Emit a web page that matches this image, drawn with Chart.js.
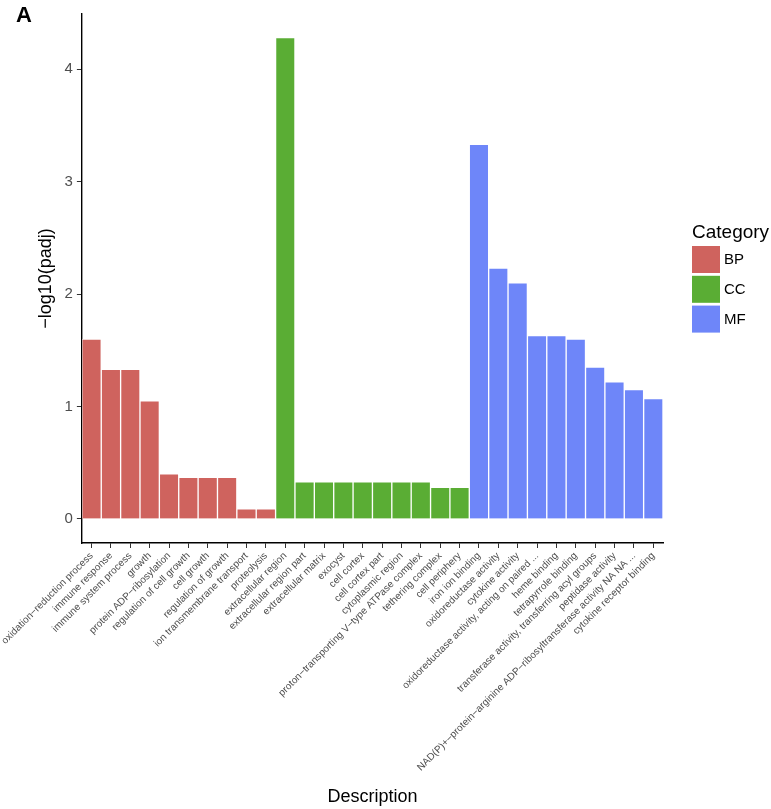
<!DOCTYPE html>
<html>
<head>
<meta charset="utf-8">
<title>GO enrichment</title>
<script src="https://cdn.jsdelivr.net/npm/chart.js@4.4.0/dist/chart.umd.min.js"></script>
<style>
  html, body { margin: 0; padding: 0; background: #fff; }
  #wrap { width: 771px; height: 809px; }
</style>
</head>
<body>
<div id="wrap"><canvas id="barras" width="771" height="809"></canvas></div>
<script>
// Terms of each GO category
const bpTerms = ["oxidation−reduction process", "immune response", "immune system process", "growth",
  "protein ADP−ribosylation", "regulation of cell growth", "cell growth", "regulation of growth",
  "ion transmembrane transport", "proteolysis"];
const ccTerms = ["extracellular region", "extracellular region part", "extracellular matrix", "exocyst",
  "cell cortex", "cell cortex part", "cytoplasmic region", "proton−transporting V−type ATPase complex",
  "tethering complex", "cell periphery"];
const mfTerms = ["iron ion binding", "oxidoreductase activity", "cytokine activity",
  "oxidoreductase activity, acting on paired ...", "heme binding", "tetrapyrrole binding",
  "transferase activity, transferring acyl groups", "peptidase activity",
  "NAD(P)+−protein−arginine ADP−ribosyltransferase activity NA NA ...", "cytokine receptor binding"];

// -log10(padj) values
const bpValues = [1.60, 1.33, 1.33, 1.05, 0.40, 0.37, 0.37, 0.37, 0.09, 0.09];
const ccValues = [4.28, 0.33, 0.33, 0.33, 0.33, 0.33, 0.33, 0.33, 0.28, 0.28];
const mfValues = [3.33, 2.23, 2.10, 1.63, 1.63, 1.60, 1.35, 1.22, 1.15, 1.07];

const yTicks = [0, 1, 2, 3, 4];

const FONT = '"Liberation Sans", Arial, Helvetica, sans-serif';

// Legend on the right and the "A" panel tag
const leyenda = {
  id: "leyenda",
  afterDraw(chart) {
    const ctx = chart.ctx;
    const x0 = chart.chartArea.right + 29;
    ctx.save();
    ctx.fillStyle = "#000";
    ctx.textAlign = "left";
    ctx.textBaseline = "alphabetic";
    ctx.font = "19px " + FONT;
    ctx.fillText("Category", x0, 238);
    chart.data.datasets.forEach(function (ds, i) {
      const y = 246 + i * 29.8;
      ctx.fillStyle = ds.backgroundColor;
      ctx.fillRect(x0, y, 28, 27);
      ctx.fillStyle = "#000";
      ctx.font = "15px " + FONT;
      ctx.textBaseline = "middle";
      ctx.fillText(ds.label, x0 + 32, y + 14);
    });
    ctx.font = "bold 22px " + FONT;
    ctx.textBaseline = "alphabetic";
    ctx.fillText("A", 16, 22);
    ctx.restore();
  }
};

function cargaGrafico() {
  const labels = bpTerms.concat(ccTerms, mfTerms);
  const n = labels.length;

  // one dataset per category, empty slots elsewhere
  function serie(values, start) {
    const arr = new Array(n).fill(null);
    values.forEach(function (v, i) { arr[start + i] = v; });
    return arr;
  }

  const datos = {
    labels: labels,
    datasets: [
      { label: "BP", data: serie(bpValues, 0), backgroundColor: "#cf635e" },
      { label: "CC", data: serie(ccValues, bpTerms.length), backgroundColor: "#5aad34" },
      { label: "MF", data: serie(mfValues, bpTerms.length + ccTerms.length), backgroundColor: "#6e86f9" }
    ]
  };

  const config = {
    type: "bar",
    data: datos,
    options: {
      responsive: false,
      animation: false,
      grouped: false,
      barPercentage: 1,
      categoryPercentage: 1,
      borderColor: "rgba(255,255,255,0.55)",
      borderWidth: 1,
      layout: { padding: { left: 0, top: 14, right: 108, bottom: 0 } },
      plugins: {
        legend: { display: false },
        tooltip: { enabled: false }
      },
      scales: {
        x: {
          offset: true,
          afterFit: function (scale) { scale.height = 266; },
          border: { display: true, color: "#000", width: 1.4 },
          grid: { display: true, offset: false, drawOnChartArea: false, drawTicks: true, tickLength: 5, color: "#333" },
          ticks: {
            autoSkip: false,
            maxRotation: 45,
            minRotation: 45,
            padding: 2,
            color: "#4d4d4d",
            font: { family: FONT, size: 10 }
          },
          title: {
            display: true,
            text: "Description",
            color: "#000",
            font: { family: FONT, size: 18 },
            padding: { top: 0, bottom: 1 }
          }
        },
        y: {
          min: -0.214,
          max: 4.49,
          afterFit: function (scale) { scale.width = 79; },
          afterBuildTicks: function (scale) {
            scale.ticks = yTicks.map(function (v) { return { value: v }; });
          },
          border: { display: true, color: "#000", width: 1.4 },
          grid: { display: true, drawOnChartArea: false, drawTicks: true, tickLength: 5, color: "#333" },
          ticks: {
            padding: 4,
            color: "#4d4d4d",
            font: { family: FONT, size: 15 }
          },
          title: {
            display: true,
            text: "−log10(padj)",
            color: "#000",
            font: { family: FONT, size: 18 },
            padding: { top: 32, bottom: 0 }
          }
        }
      }
    },
    plugins: [leyenda]
  };

  const grafico = document.getElementById("barras").getContext("2d");
  new Chart(grafico, config);
}

document.addEventListener("DOMContentLoaded", cargaGrafico);
</script>
</body>
</html>
